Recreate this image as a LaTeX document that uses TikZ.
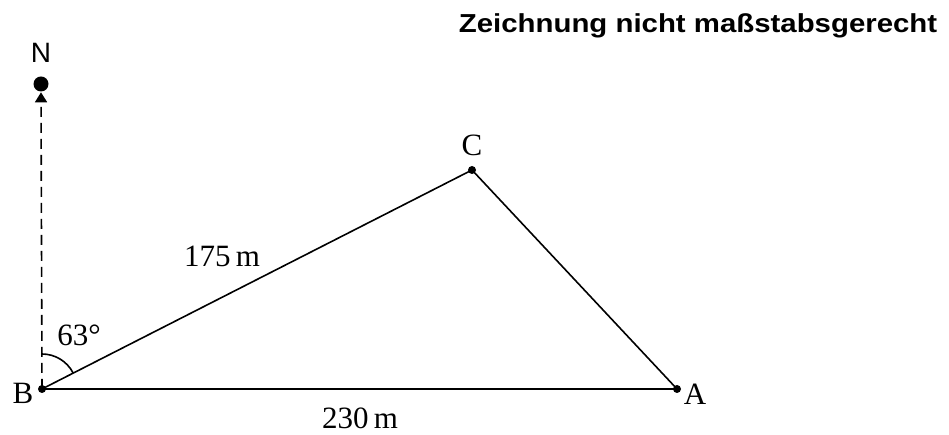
\documentclass[tikz,border=0pt]{standalone}
\usepackage{fontspec}
\setmainfont{Liberation Serif}
\setsansfont{Liberation Sans}
\usetikzlibrary{arrows.meta}
\tikzset{
	punkt/.style={circle, fill, inner sep=0pt, minimum size=8pt},
	beschr/.style={font=\fontsize{31}{31}\selectfont, inner sep=0pt}
}
\begin{document}
\begin{tikzpicture}[x=1pt, y=1pt, line width=1.6pt]
\useasboundingbox (0,0) rectangle (949,435);
\node[punkt] (B) at (42,46) {};
\node[punkt] (A) at (677,46) {};
\node[punkt] (C) at (472,265) {};
\node[circle, fill, inner sep=0pt, minimum size=15pt] (N) at (41,351) {};
\draw (B.center) -- (A.center) -- (C.center) -- (B.center);
% Nordrichtung
\draw[dash pattern=on 10pt off 6pt, -{Triangle[length=10pt, width=12pt]}] (B.center) -- (N.south);
\draw (B.center) ++(0,35) arc[start angle=90, end angle=27, radius=35];
\node[beschr] (lB) at (23,42) {B};
\node[beschr] (lA) at (695,41) {A};
\node[beschr] (lC) at (472,290) {C};
\node[beschr] (lBC) at (222,179) {175\,m};
\node[beschr] (lBA) at (360,17) {230\,m};
\node[beschr] (lw) at (79,100) {63°};
\node[font=\sffamily\fontsize{28}{28}\selectfont, inner sep=0pt] (lN) at (41,382) {N};
\node[font=\sffamily\bfseries\fontsize{26}{26}\selectfont, anchor=base east, inner sep=0pt] (titel) at (938,402) {\scalebox{1.13}[1]{Zeichnung nicht maßstabsgerecht}};
\end{tikzpicture}
\end{document}
